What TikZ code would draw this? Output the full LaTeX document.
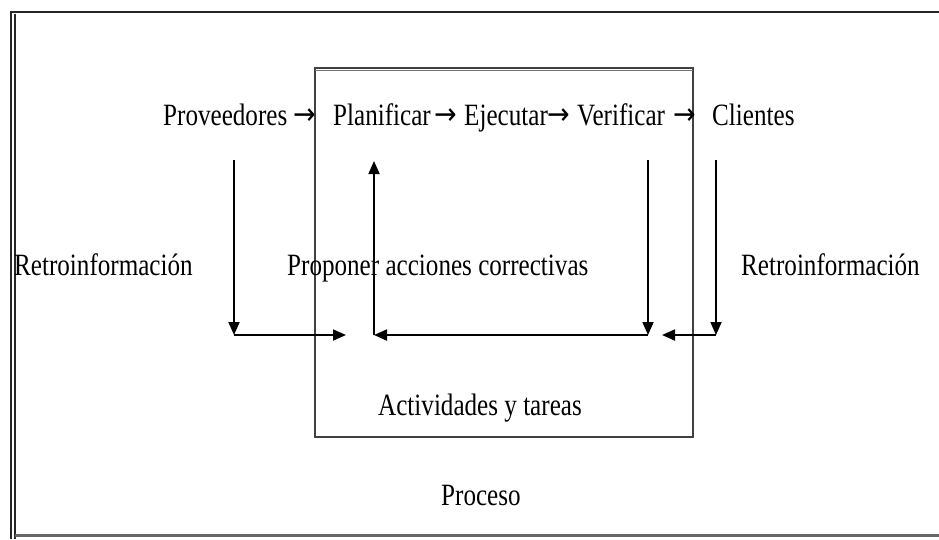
\documentclass[tikz,border=0pt]{standalone}
\usepackage{fontspec}
\setmainfont{Liberation Serif}[FakeStretch=0.81]
\newfontfamily\arrowfont{DejaVu Sans}[FakeStretch=0.9]
\usetikzlibrary{arrows.meta}
\begin{document}
\begin{tikzpicture}[x=1pt,y=-1pt,
  lbl/.style={anchor=base west,inner sep=0pt,font=\fontsize{31}{37}\selectfont},
  glyph/.style={anchor=base west,inner sep=0pt,font=\arrowfont\fontsize{30}{36}\selectfont},
  conn/.style={line width=1.8pt,-{Triangle[length=13pt,width=11pt]}},
  frame/.style={line width=1.4pt,black!85}]
\useasboundingbox (0,0) rectangle (939,539);
% outer frame
\draw[frame] (11,539) -- (11,12) -- (939,12);
\draw[frame] (15,539) -- (15,14);
\draw[line width=3pt,black!60] (15,535.5) -- (939,535.5);
% process box
\draw[line width=2pt,black!75] (315,68) rectangle (693,437);
\draw[line width=1pt,black!55] (315,70.5) -- (693,70.5);
% top row
\node[lbl] (prov) at (163,125) {Proveedores};
\node[glyph] (ar1) at (293,124) {→};
\node[lbl] (plan) at (333,125) {Planificar};
\node[glyph] (ar2) at (434,124) {→};
\node[lbl] (ejec) at (464,125) {Ejecutar};
\node[glyph] (ar3) at (547,124) {→};
\node[lbl] (veri) at (577,125) {Verificar};
\node[glyph] (ar4) at (673,124) {→};
\node[lbl] (cli) at (712,125) {Clientes};
% middle labels
\node[lbl] (retroL) at (14,275) {Retroinformación};
\node[lbl] (prop) at (287,275) {Proponer acciones correctivas};
\node[lbl] (retroR) at (741,275) {Retroinformación};
\node[lbl] (act) at (378,415) {Actividades y tareas};
\node[lbl] (proc) at (441,505) {Proceso};
% feedback loop points
\coordinate (pA) at (234,160);
\coordinate (pB) at (234,335);
\coordinate (pC) at (346,335);
\coordinate (uB) at (374,335);
\coordinate (uT) at (374,161);
\coordinate (vA) at (648,160);
\coordinate (vB) at (648,335);
\coordinate (cA) at (716,160);
\coordinate (cB) at (716,335);
\coordinate (cC) at (662,335);
% connectors
\draw[conn] (pA) -- (pB);
\draw[conn] (pB) -- (pC);
\draw[conn] (uB) -- (uT);
\draw[conn] (vA) -- (vB);
\draw[conn] (vB) -- (uB);
\draw[conn] (cA) -- (cB);
\draw[conn] (cB) -- (cC);
\end{tikzpicture}
\end{document}
